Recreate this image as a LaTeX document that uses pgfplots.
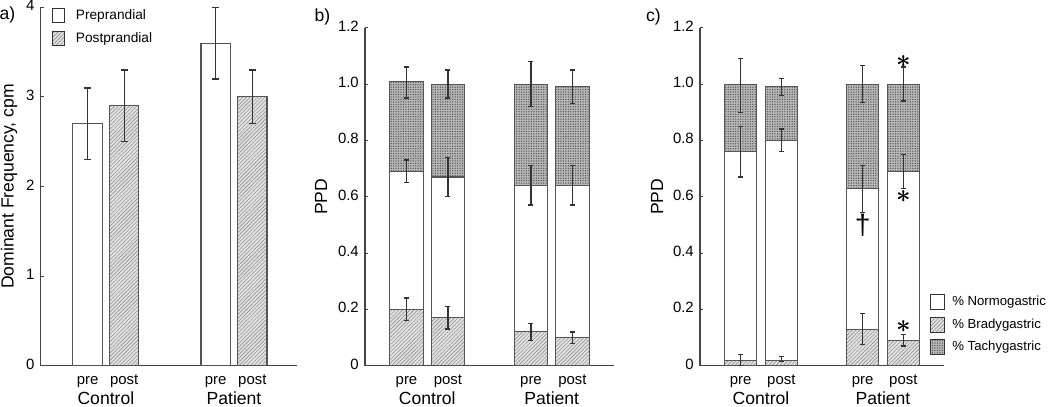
\documentclass[border=0pt]{standalone}
\usepackage{fontspec}
\setmainfont{Liberation Sans}
\usepackage{pgfplots}
\pgfplotsset{compat=1.18}
\usepackage{pgfplotstable}
\usetikzlibrary{patterns,patterns.meta}

\definecolor{edge}{HTML}{555555}
\definecolor{errc}{HTML}{333333}
\definecolor{axc}{HTML}{444444}
\definecolor{bradyfill}{HTML}{E2E2E2}
\definecolor{tachyfill}{HTML}{B8B8B8}

% dominant frequency (panel a): mean, lower and upper error
\pgfplotstableread{
x   y   lo  hi
0   2.7 2.3 3.1
3.5 3.6 3.2 4.0
}\freqpre
\pgfplotstableread{
x   y   lo  hi
1   2.9 2.5 3.3
4.5 3.0 2.7 3.3
}\freqpost

% PPD levels (top of brady b, top of normo n, top of tachy t) with error ends
\pgfplotstableread{
x b    blo   bhi   n    nlo   nhi  t    tlo   thi
0 0.20 0.16  0.24  0.69 0.65  0.73 1.01 0.95  1.06
1 0.17 0.13  0.21  0.67 0.60  0.74 1.00 0.95  1.05
3 0.12 0.09  0.15  0.64 0.57  0.71 1.00 0.92  1.08
4 0.10 0.08  0.12  0.64 0.57  0.71 0.99 0.93  1.05
}\ppdb
\pgfplotstableread{
x b    blo   bhi   n    nlo   nhi  t    tlo   thi
0 0.02 0.00  0.04  0.76 0.67  0.85 1.00 0.90  1.09
1 0.02 0.014 0.032 0.80 0.76  0.84 0.99 0.96  1.02
3 0.13 0.075 0.185 0.63 0.545 0.71 1.00 0.935 1.065
4 0.09 0.07  0.11  0.69 0.63  0.75 1.00 0.94  1.06
}\ppdc

\tikzset{
  normo/.style={fill=white},
  brady/.style={fill=bradyfill,
    postaction={pattern={Lines[angle=45,distance=1.5pt,line width=0.35pt]}, pattern color=gray!85}},
  tachy/.style={fill=tachyfill,
    postaction={pattern={Dots[distance=1.4pt,radius=0.42pt]}, pattern color=gray!70!black}},
  grp/.style={anchor=base, yshift=-0.786cm, font=\fontsize{10}{12}\selectfont},
  sig/.style={font=\fontsize{15}{15}\selectfont\boldmath},
}

\pgfplotsset{
  panel/.style={
    scale only axis, ymin=0,
    axis x line*=bottom, axis y line*=left,
    axis line style={axc, line width=0.7pt},
    tick align=inside, major tick length=0.06cm,
    ytick style={axc, line width=0.6pt},
    xtick style={draw=none},
    typeset ticklabels with strut,
    tick label style={font=\fontsize{8.5}{10}\selectfont},
    label style={font=\fontsize{10}{12}\selectfont},
    clip=false,
    legend cell align=left,
  },
  seg/.style={ybar, bar shift=0pt, draw=edge, line width=0.6pt},
  errs/.style={draw=none, mark=none, forget plot,
    error bars/.cd, y dir=both, y explicit,
    error bar style={draw=errc, line width=0.75pt},
    error mark options={rotate=90, draw=errc, line width=0.75pt, mark size=#1}},
  errs/.default=0.05cm,
}

\begin{document}
\begin{tikzpicture}
\path[use as bounding box] (0,0) rectangle (21cm,8.14cm);

% a) dominant frequency
\begin{axis}[panel,
  at={(0.814cm,0.826cm)}, anchor=south west,
  width=5.126cm, height=7.168cm,
  xmin=-1.28, xmax=5.72, ymax=4,
  bar width=0.588cm,
  ytick={0,1,2,3,4}, yticklabels={0,1,2,3,4},
  xtick={0,1,3.5,4.5}, xticklabels={pre,post,pre,post},
  every axis y label/.style={at={(axis description cs:0,0.5)}, xshift=-0.634cm, rotate=90, anchor=center},
  ylabel={Dominant Frequency, cpm},
  legend image code/.code={\draw[#1, draw=black!80, line width=0.6pt] (0cm,-0.14cm) rectangle (0.24cm,0.14cm);},
  legend style={at={(axis description cs:0.044,1.005)}, anchor=north west,
    draw=none, fill=none, inner sep=0pt, row sep=0.07cm, column sep=0.14cm,
    font=\fontsize{7.8}{9}\selectfont},
]
\addplot[seg, normo, forget plot] table[x=x, y=y] {\freqpre};
\addplot[seg, brady, forget plot] table[x=x, y=y] {\freqpost};
\addplot[errs=0.07cm] table[x=x, y=y,
  y error plus expr=\thisrow{hi}-\thisrow{y}, y error minus expr=\thisrow{y}-\thisrow{lo}] {\freqpre};
\addplot[errs=0.07cm] table[x=x, y=y,
  y error plus expr=\thisrow{hi}-\thisrow{y}, y error minus expr=\thisrow{y}-\thisrow{lo}] {\freqpost};
\addlegendimage{normo}\addlegendentry{Preprandial}
\addlegendimage{brady}\addlegendentry{Postprandial}
\node[grp] at (axis cs:0.5,0) {Control};
\node[grp] at (axis cs:4.0,0) {Patient};
\end{axis}

% b) PPD
\begin{axis}[panel,
  at={(7.30cm,0.826cm)}, anchor=south west,
  width=4.98cm, height=6.76cm,
  xmin=-1, xmax=5, ymax=1.2,
  bar width=0.666cm,
  ytick={0,0.2,0.4,0.6,0.8,1.0,1.2}, yticklabels={0,0.2,0.4,0.6,0.8,1.0,1.2},
  xtick={0,1,3,4}, xticklabels={pre,post,pre,post},
  every axis y label/.style={at={(axis description cs:0,0.5)}, xshift=-0.88cm, rotate=90, anchor=center},
  ylabel={PPD},
]
\addplot[seg, tachy, forget plot] table[x=x, y=t] {\ppdb};
\addplot[seg, normo, forget plot] table[x=x, y=n] {\ppdb};
\addplot[seg, brady, forget plot] table[x=x, y=b] {\ppdb};
\addplot[errs] table[x=x, y=t,
  y error plus expr=\thisrow{thi}-\thisrow{t}, y error minus expr=\thisrow{t}-\thisrow{tlo}] {\ppdb};
\addplot[errs] table[x=x, y=n,
  y error plus expr=\thisrow{nhi}-\thisrow{n}, y error minus expr=\thisrow{n}-\thisrow{nlo}] {\ppdb};
\addplot[errs] table[x=x, y=b,
  y error plus expr=\thisrow{bhi}-\thisrow{b}, y error minus expr=\thisrow{b}-\thisrow{blo}] {\ppdb};
\node[grp] at (axis cs:0.5,0) {Control};
\node[grp] at (axis cs:3.5,0) {Patient};
\end{axis}

% c) PPD
\begin{axis}[panel,
  at={(14.0cm,0.826cm)}, anchor=south west,
  width=4.88cm, height=6.76cm,
  xmin=-1, xmax=5, ymax=1.2,
  bar width=0.65cm,
  ytick={0,0.2,0.4,0.6,0.8,1.0,1.2}, yticklabels={0,0.2,0.4,0.6,0.8,1.0,1.2},
  xtick={0,1,3,4}, xticklabels={pre,post,pre,post},
  every axis y label/.style={at={(axis description cs:0,0.5)}, xshift=-0.86cm, rotate=90, anchor=center},
  ylabel={PPD},
  legend image code/.code={\draw[#1, draw=black!80, line width=0.6pt] (0cm,-0.15cm) rectangle (0.28cm,0.15cm);},
  legend style={at={(axis description cs:0.94,0.218)}, anchor=north west,
    draw=none, fill=none, inner sep=0pt, row sep=0.07cm, column sep=0.08cm,
    font=\fontsize{7.5}{9}\selectfont},
]
\addplot[seg, tachy, forget plot] table[x=x, y=t] {\ppdc};
\addplot[seg, normo, forget plot] table[x=x, y=n] {\ppdc};
\addplot[seg, brady, forget plot] table[x=x, y=b] {\ppdc};
\addplot[errs] table[x=x, y=t,
  y error plus expr=\thisrow{thi}-\thisrow{t}, y error minus expr=\thisrow{t}-\thisrow{tlo}] {\ppdc};
\addplot[errs] table[x=x, y=n,
  y error plus expr=\thisrow{nhi}-\thisrow{n}, y error minus expr=\thisrow{n}-\thisrow{nlo}] {\ppdc};
\addplot[errs] table[x=x, y=b,
  y error plus expr=\thisrow{bhi}-\thisrow{b}, y error minus expr=\thisrow{b}-\thisrow{blo}] {\ppdc};
\addlegendimage{normo}\addlegendentry{\% Normogastric}
\addlegendimage{brady}\addlegendentry{\% Bradygastric}
\addlegendimage{tachy}\addlegendentry{\% Tachygastric}
\node[sig] at (axis cs:4,1.081) {$\ast$};
\node[sig] at (axis cs:4,0.60) {$\ast$};
\node[sig] at (axis cs:4,0.139) {$\ast$};
\node[font=\fontsize{16}{16}\selectfont] at (axis cs:3,0.50) {\textdagger};
\node[grp] at (axis cs:0.5,0) {Control};
\node[grp] at (axis cs:3.5,0) {Patient};
\end{axis}

\node[font=\fontsize{10}{12}\selectfont] at (0.15cm,7.84cm) {a)};
\node[font=\fontsize{10}{12}\selectfont] at (6.45cm,7.81cm) {b)};
\node[font=\fontsize{10}{12}\selectfont] at (13.07cm,7.81cm) {c)};
\end{tikzpicture}
\end{document}
